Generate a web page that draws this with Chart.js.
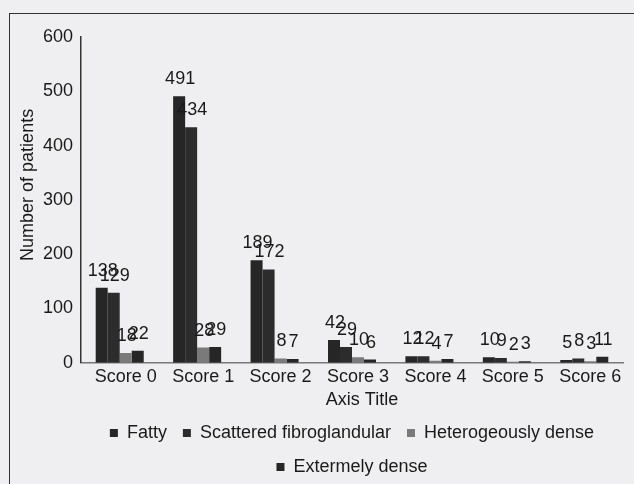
<!DOCTYPE html>
<html>
<head>
<meta charset="utf-8">
<script src="https://cdn.jsdelivr.net/npm/chart.js@4"></script>
<style>
  html, body { margin: 0; padding: 0; background: #efeef0; overflow: hidden; }
  #wrap { position: relative; width: 634px; height: 484px; }
  #frame { position: absolute; left: 9px; top: 13px; width: 700px; height: 600px; border: 1.5px solid #333; box-sizing: border-box; }
  #chart { position: absolute; left: 0; top: 2px; }
</style>
</head>
<body>
<div id="wrap">
  <div id="frame"></div>
  <canvas id="chart" width="634" height="484"></canvas>
</div>
<script>
var categories = ['Score 0', 'Score 1', 'Score 2', 'Score 3', 'Score 4', 'Score 5', 'Score 6'];
var fatty = [138, 491, 189, 42, 12, 10, 5];
var scattered = [129, 434, 172, 29, 12, 9, 8];
var hetero = [18, 28, 8, 10, 4, 2, 3];
var extreme = [22, 29, 7, 6, 7, 3, 11];
var yTicks = [0, 100, 200, 300, 400, 500, 600];

var FONT = '"Liberation Sans", Arial, sans-serif';
var INK = '#1a1a1a';
var NB = '\u00a0';

// draw the value above each bar, like the Excel data labels
var barLabels = {
    id: 'barLabels',
    afterDatasetsDraw: function (chart) {
        var ctx = chart.ctx;
        ctx.save();
        ctx.font = '18px ' + FONT;
        ctx.fillStyle = INK;
        ctx.textAlign = 'center';
        ctx.textBaseline = 'bottom';
        chart.data.datasets.forEach(function (ds, i) {
            var meta = chart.getDatasetMeta(i);
            meta.data.forEach(function (bar, j) {
                ctx.fillText(String(ds.data[j]), bar.x + 1, bar.y - 8);
            });
        });
        ctx.restore();
    }
};

new Chart(document.getElementById('chart'), {
    type: 'bar',
    data: {
        labels: categories,
        datasets: [
            { label: 'Fatty', data: fatty, backgroundColor: '#262626' },
            { label: 'Scattered fibroglandular', data: scattered, backgroundColor: '#2c2c2c' },
            { label: 'Heterogeously dense', data: hetero, backgroundColor: '#7a7a7a' },
            { label: 'Extermely dense', data: extreme, backgroundColor: '#262626' }
        ]
    },
    options: {
        responsive: false,
        animation: false,
        devicePixelRatio: 1,
        layout: { padding: { left: 17, top: 35, right: 11, bottom: 0 } },
        datasets: { bar: { categoryPercentage: 0.62, barPercentage: 1 } },
        plugins: {
            legend: {
                position: 'bottom',
                fullSize: false,
                labels: {
                    font: { size: 18, family: FONT },
                    color: INK,
                    boxWidth: 8,
                    boxHeight: 8,
                    padding: 16
                }
            },
            tooltip: { enabled: false }
        },
        scales: {
            x: {
                grid: { display: false, drawTicks: false },
                border: { color: '#777', width: 1.5 },
                ticks: { font: { size: 18, family: FONT }, color: INK, padding: 3, labelOffset: 6 },
                title: { display: true, text: NB.repeat(4) + 'Axis Title', font: { size: 18, family: FONT }, color: INK, padding: { top: -1, bottom: -3 } }
            },
            y: {
                min: 0,
                max: 600,
                afterBuildTicks: function (axis) {
                    axis.ticks = yTicks.map(function (v) { return { value: v }; });
                },
                afterFit: function (axis) { axis.width = 64; },
                grid: { display: false, drawTicks: false },
                border: { color: '#333', width: 1.5 },
                ticks: { font: { size: 18, family: FONT }, color: INK, padding: 8 },
                title: { display: true, text: NB.repeat(6) + 'Number of patients', font: { size: 18, family: FONT }, color: INK, padding: { top: 0, bottom: 0 } }
            }
        }
    },
    plugins: [barLabels]
});
</script>
</body>
</html>
